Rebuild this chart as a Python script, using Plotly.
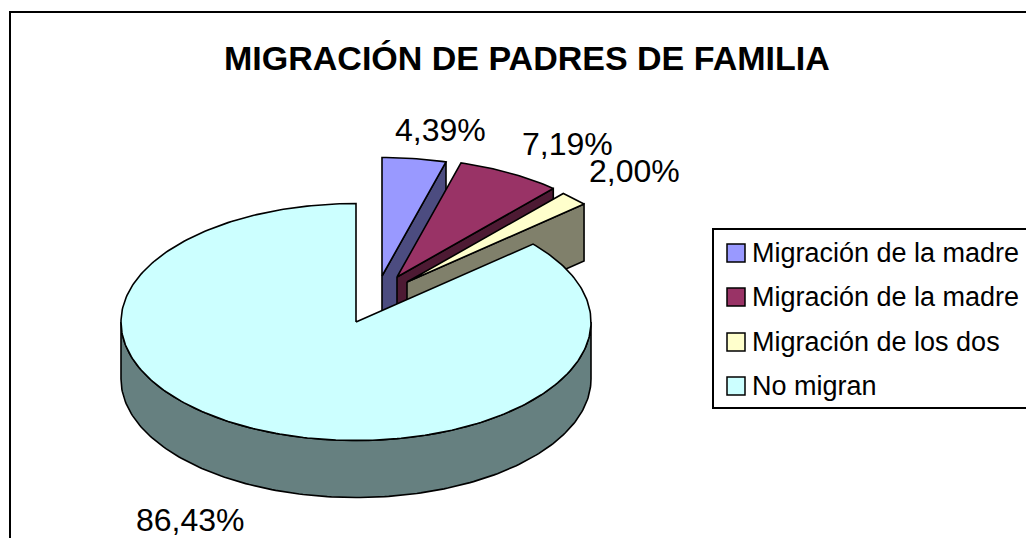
import math
import plotly.graph_objects as go

# Chart data
categories = ["Migración de la madre", "Migración de la madre", "Migración de los dos", "No migran"]
percent = [4.39, 7.19, 2.00, 86.43]

# Styling: top faces and darker side walls
top_colors = ["#9999FF", "#993366", "#FFFFCC", "#CCFFFF"]
side_colors = ["#4C4C80", "#4D1A33", "#80806B", "#668080"]

# Pie geometry (one axis unit = one pixel)
CX, CY = 356, 322
RX, RY = 235, 118.5
DEPTH = 57
explode = [(26, -46), (41, -45), (51, -40), (0, 0)]
label_pos = [(440, 130), (567, 144), (634, 171), (190, 520)]

# Legend box layout
LEG_X0, LEG_Y0, LEG_Y1 = 713, 229, 408
LEG_ROWS = [253, 297, 342, 386]
LEG_SQ = 18
LEG_SQ_X = 727
LEG_TEXT_X = 750

FONT = "Liberation Sans, Arial, sans-serif"


def point(theta, ox, oy, dz=0.0):
    t = math.radians(theta)
    return CX + ox + RX * math.sin(t), CY + oy - RY * math.cos(t) + dz


def arc(a0, a1, ox, oy, dz=0.0, step=1.0):
    n = max(2, int(abs(a1 - a0) / step) + 1)
    return [point(a0 + (a1 - a0) * k / (n - 1), ox, oy, dz) for k in range(n)]


def poly_trace(pts, fill):
    xs = [p[0] for p in pts] + [pts[0][0]]
    ys = [p[1] for p in pts] + [pts[0][1]]
    return go.Scatter(x=xs, y=ys, mode="lines", fill="toself", fillcolor=fill,
                      line=dict(color="black", width=1.6), hoverinfo="skip",
                      showlegend=False)


total = sum(percent)
bounds = []
acc = 0.0
for v in percent:
    a0 = acc / total * 360
    acc += v
    bounds.append((a0, acc / total * 360))

fig = go.Figure()

for i in range(len(percent)):
    a0, a1 = bounds[i]
    ox, oy = explode[i]
    apex = (CX + ox, CY + oy)
    apex_low = (CX + ox, CY + oy + DEPTH)
    # outer wall, front half only
    w0, w1 = max(a0, 90), min(a1, 270)
    if w1 > w0:
        pts = arc(w0, w1, ox, oy) + arc(w1, w0, ox, oy, DEPTH)
        fig.add_trace(poly_trace(pts, side_colors[i]))
    # radial side faces that face the viewer
    if math.sin(math.radians(a1)) > 1e-6:
        pts = [apex, point(a1, ox, oy), point(a1, ox, oy, DEPTH), apex_low]
        fig.add_trace(poly_trace(pts, side_colors[i]))
    if math.sin(math.radians(a0)) < -1e-6:
        pts = [apex, point(a0, ox, oy), point(a0, ox, oy, DEPTH), apex_low]
        fig.add_trace(poly_trace(pts, side_colors[i]))
    # top face
    pts = [apex] + arc(a0, a1, ox, oy)
    fig.add_trace(poly_trace(pts, top_colors[i]))

# Percentage labels
for i, v in enumerate(percent):
    txt = f"{v:.2f}".replace(".", ",") + "%"
    fig.add_annotation(x=label_pos[i][0], y=label_pos[i][1], text=txt,
                       showarrow=False, xanchor="center", yanchor="middle",
                       font=dict(family=FONT, size=32, color="black"))

fig.add_annotation(x=527, y=58, text="<b>MIGRACIÓN DE PADRES DE FAMILIA</b>",
                   showarrow=False, xanchor="center", yanchor="middle",
                   font=dict(family=FONT, size=34, color="black"))

# Chart frame
fig.add_shape(type="rect", x0=10, y0=12, x1=1060, y1=580,
              line=dict(color="black", width=2), layer="above")

# Legend: framed box with colour keys
fig.add_shape(type="rect", x0=LEG_X0, y0=LEG_Y0, x1=1060, y1=LEG_Y1,
              line=dict(color="black", width=2), fillcolor="white", layer="above")
for i, name in enumerate(categories):
    yc = LEG_ROWS[i]
    fig.add_shape(type="rect", x0=LEG_SQ_X, x1=LEG_SQ_X + LEG_SQ,
                  y0=yc - LEG_SQ / 2, y1=yc + LEG_SQ / 2,
                  line=dict(color="black", width=1.5), fillcolor=top_colors[i],
                  layer="above")
    fig.add_annotation(x=LEG_TEXT_X, y=yc, text=name, showarrow=False,
                       xanchor="left", yanchor="middle",
                       font=dict(family=FONT, size=27, color="black"))

fig.update_layout(
    width=1026, height=538,
    margin=dict(l=0, r=0, t=0, b=0),
    paper_bgcolor="white", plot_bgcolor="white",
    xaxis=dict(range=[0, 1026], visible=False, fixedrange=True),
    yaxis=dict(range=[538, 0], visible=False, fixedrange=True),
    showlegend=False,
)

fig.write_html("out.html")
